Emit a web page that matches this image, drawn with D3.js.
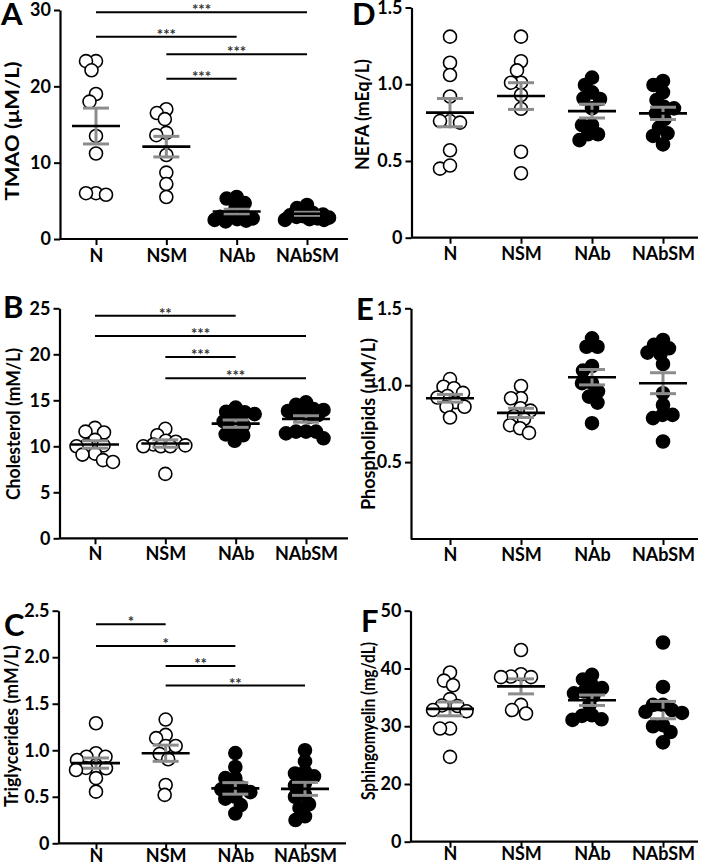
<!DOCTYPE html>
<html><head><meta charset="utf-8">
<script src="https://cdn.jsdelivr.net/npm/d3@7"></script>
<style>
body{margin:0;background:#fff}
text{font-family:Lato,'Open Sans',sans-serif;font-weight:700;fill:#000}
</style>
</head><body>
<svg id="c" width="701" height="866"></svg>
<script>
const categories = ["N","NSM","NAb","NAbSM"];
const filledGroups = [false,false,true,true];

// A: TMAO (µM/L)
const tmaoN     = [23.3,23.3,22.1,19.0,18.0,13.5,11.2,6.0,6.0,5.8];
const tmaoNSM   = [17.0,16.5,15.7,13.9,13.6,11.0,8.7,7.2,5.5];
const tmaoNAb   = [5.5,5.3,4.7,4.1,3.2,3.0,2.9,2.7,2.6,2.5,2.4,2.3];
const tmaoNAbSM = [4.45,4.05,3.4,3.2,3.1,3.0,2.9,2.8,2.7,2.6,2.5,2.5];
const tmaoMean  = [14.8,12.1,3.6,3.3];
const tmaoSem   = [2.35,1.35,0.3,0.2];
const tmaoTicks = [0,10,20,30];
const tmaoTickLabels = ["0","10","20","30"];
const tmaoSig = [[0,3,29.7,"***"],[0,2,26.5,"***"],[1,3,24.2,"***"],[1,2,21.0,"***"]];

// B: Cholesterol (mM/L)
const cholN     = [12.0,11.6,11.5,10.7,10.1,10.1,10.0,9.2,9.1,8.5,8.3];
const cholNSM   = [11.9,11.2,10.6,10.5,10.2,10.1,10.0,10.0,10.0,7.0];
const cholNAb   = [14.2,13.76,13.7,13.5,12.97,12.7,12.3,11.8,11.3,11.2,10.6];
const cholNAbSM = [14.78,14.5,14.05,13.95,13.84,13.84,13.6,13.4,13.2,11.6,11.6,11.6,11.4,10.87];
const cholMean  = [10.2,10.3,12.46,12.97];
const cholSem   = [0.4,0.4,0.4,0.35];
const cholTicks = [0,5,10,15,20,25];
const cholTickLabels = ["0","5","10","15","20","25"];
const cholSig = [[0,2,24.2,"**"],[0,3,22.0,"***"],[1,2,19.7,"***"],[1,3,17.4,"***"]];

// C: Triglycerides (mM/L)
const trigN     = [1.29,0.968,0.93,0.93,0.896,0.813,0.81,0.806,0.788,0.70,0.555];
const trigNSM   = [1.33,1.165,1.13,1.046,1.046,0.96,0.903,0.627,0.52];
const trigNAb   = [0.97,0.82,0.70,0.70,0.60,0.58,0.60,0.55,0.50,0.48,0.41,0.32];
const trigNAbSM = [1.00,0.88,0.77,0.75,0.72,0.65,0.62,0.52,0.50,0.42,0.38,0.29,0.25];
const trigMean  = [0.862,0.968,0.59,0.585];
const trigSem   = [0.055,0.087,0.062,0.07];
const trigTicks = [0,0.5,1.0,1.5,2.0,2.5];
const trigTickLabels = ["0","0.5","1.0","1.5","2.0","2.5"];
const trigSig = [[0,1,2.355,"*"],[0,2,2.12,"*"],[1,2,1.906,"**"],[1,3,1.695,"**"]];

// D: NEFA (mEq/L)
const nefaN     = [1.31,1.14,1.06,0.92,0.76,0.75,0.76,0.57,0.45,0.47];
const nefaNSM   = [1.31,1.15,1.09,1.01,1.01,0.93,0.84,0.56,0.42];
const nefaNAb   = [1.043,0.995,0.947,0.904,0.908,0.843,0.734,0.734,0.674,0.674,0.636];
const nefaNAbSM = [1.021,0.995,0.947,0.897,0.853,0.843,0.81,0.773,0.717,0.68,0.663,0.608];
const nefaMean  = [0.815,0.923,0.825,0.81];
const nefaSem   = [0.092,0.087,0.045,0.04];
const nefaTicks = [0,0.5,1.0,1.5];
const nefaTickLabels = ["0","0.5","1.0","1.5"];

// E: Phospholipids (µM/L)
const phosN     = [1.04,0.99,0.98,0.95,0.93,0.92,0.89,0.86,0.86,0.79];
const phosNSM   = [0.995,0.915,0.915,0.85,0.835,0.80,0.78,0.74,0.72,0.69];
const phosNAb   = [1.305,1.25,1.25,1.125,1.095,1.013,1.013,0.96,0.926,0.887,0.753];
const phosNAbSM = [1.294,1.262,1.24,1.212,1.203,1.138,0.948,0.872,0.807,0.807,0.786,0.634];
const phosMean  = [0.915,0.82,1.052,1.013];
const phosSem   = [0.025,0.03,0.05,0.068];
const phosTicks = [0.5,1.0,1.5];
const phosTickLabels = ["0.5","1.0","1.5"];

// F: Sphingomyelin (mg/dL)
const sphN     = [39.3,37.9,37.1,34.7,33.6,33.5,32.6,32.8,29.6,29.6,24.7];
const sphNSM   = [43.2,39.0,38.6,38.5,38.5,33.7,32.8,32.2];
const sphNAb   = [38.9,38.1,37.1,36.6,36.0,35.7,35.3,33.7,31.9,31.8,31.2,31.1];
const sphNAbSM = [44.5,36.8,33.7,33.7,32.8,32.5,32.3,30.2,30.0,29.0,27.2];
const sphMean  = [33.0,36.9,34.5,32.8];
const sphSem   = [1.2,1.3,0.9,1.5];
const sphTicks = [0,20,30,40,50];
const sphTickLabels = ["0","20","30","40","50"];

const panels = [
  {letter:"A", title:"TMAO (\u03BCM/L)", groups:[tmaoN,tmaoNSM,tmaoNAb,tmaoNAbSM], mean:tmaoMean, sem:tmaoSem, ticks:tmaoTicks, tickLabels:tmaoTickLabels, sig:tmaoSig,
   domain:[0,30], range:[239,10], x0:60, xEnd:348, xr:[96,307], labPad:4, letterPos:[1,25], titlePos:[19,131], titleLen:139},
  {letter:"B", title:"Cholesterol (mM/L)", groups:[cholN,cholNSM,cholNAb,cholNAbSM], mean:cholMean, sem:cholSem, ticks:cholTicks, tickLabels:cholTickLabels, sig:cholSig,
   domain:[0,25], range:[538.3,308.3], x0:59.5, xEnd:348, xr:[95,306], labPad:3, letterPos:[3,318], titlePos:[19.5,424], titleLen:152},
  {letter:"C", title:"Triglycerides (mM/L)", groups:[trigN,trigNSM,trigNAb,trigNAbSM], mean:trigMean, sem:trigSem, ticks:trigTicks, tickLabels:trigTickLabels, sig:trigSig,
   domain:[0,2.5], range:[843.3,610.7], x0:58.5, xEnd:346, xr:[96,305], labPad:0, letterPos:[4,636], titlePos:[18,726], titleLen:162},
  {letter:"D", title:"NEFA (mEq/L)", groups:[nefaN,nefaNSM,nefaNAb,nefaNAbSM], mean:nefaMean, sem:nefaSem, ticks:nefaTicks, tickLabels:nefaTickLabels, sig:[],
   domain:[0,1.5], range:[237.7,7.5], x0:411.5, xEnd:698, xr:[450,663], labPad:4, letterPos:[352,25], titlePos:[369,114.5], titleLen:111},
  {letter:"E", title:"Phospholipids (\u03BCM/L)", groups:[phosN,phosNSM,phosNAb,phosNAbSM], mean:phosMean, sem:phosSem, ticks:phosTicks, tickLabels:phosTickLabels, sig:[],
   domain:[0,1.5], range:[539,308.3], x0:411, xEnd:698, xr:[450,663], labPad:3, letterPos:[356,320], titlePos:[375,424], titleLen:172},
  {letter:"F", title:"Sphingomyelin (mg/dL)", groups:[sphN,sphNSM,sphNAb,sphNAbSM], mean:sphMean, sem:sphSem, ticks:sphTicks, tickLabels:sphTickLabels, sig:[],
   domain:[0,20,50], range:[841.7,784,610.7], x0:410.5, xEnd:698, xr:[450,663], labPad:0, letterPos:[361,632], titlePos:[375,721], titleLen:158}
];

const svg = d3.select("#c");
const R = 6.5, COLL = 10, MAXW = 22;

function swarm(vals, cx, y) {
  const order = vals.map((v,i)=>i).sort((a,b)=>vals[b]-vals[a]);
  const placed = [], out = new Array(vals.length);
  for (const i of order) {
    const py = y(vals[i]);
    let off = null, bestO = 0, bestD = -1;
    for (let k=0;k<=MAXW*4;k++) {
      const o = (k%2===0?1:-1)*Math.ceil(k/2)*0.5;
      let minD = Infinity;
      placed.forEach(p => { const d = Math.hypot(p.x-o, p.y-py); if (d<minD) minD=d; });
      if (minD >= COLL) { off = o; break; }
      if (minD > bestD + 0.01) { bestD = minD; bestO = o; }
    }
    if (off === null) off = bestO;
    placed.push({x:off,y:py});
    out[i] = {x:cx+off, y:py};
  }
  return out;
}

panels.forEach(p => {
  const g = svg.append("g");
  const y = d3.scaleLinear().domain(p.domain).range(p.range);
  const x = d3.scalePoint().domain(categories).range(p.xr);
  const yBase = y(0);

  const ya = g.append("g").attr("transform",`translate(${p.x0},0)`)
    .call(d3.axisLeft(y).tickValues(p.ticks).tickFormat((d,i)=>p.tickLabels[i]).tickSize(6).tickPadding(3).tickSizeOuter(0));
  ya.select(".domain").attr("stroke","#000").attr("stroke-width",2.2);
  ya.selectAll(".tick line").attr("stroke","#000").attr("stroke-width",2);
  ya.selectAll(".tick text").style("font-size","18px").style("font-family","Lato").style("font-weight","700");

  const xa = g.append("g").attr("transform",`translate(0,${yBase})`)
    .call(d3.axisBottom(x).tickSize(6).tickPadding(p.labPad).tickSizeOuter(0));
  xa.select(".domain").remove();
  xa.append("line").attr("x1",p.x0).attr("x2",p.xEnd).attr("y1",0).attr("y2",0).attr("stroke","#000").attr("stroke-width",2.2);
  xa.selectAll(".tick line").attr("stroke","#000").attr("stroke-width",2);
  xa.selectAll(".tick text").style("font-size","18px").style("font-family","Lato").style("font-weight","700");

  p.groups.forEach((vals,gi) => {
    const pts = swarm(vals, x(categories[gi]), y);
    g.append("g").selectAll("circle").data(pts).join("circle")
      .attr("cx",d=>d.x).attr("cy",d=>d.y).attr("r",R)
      .attr("fill", filledGroups[gi] ? "#000" : "#fff")
      .attr("stroke","#000").attr("stroke-width",1.6);
  });

  categories.forEach((c,gi) => {
    const cx = x(c), m = p.mean[gi], s = p.sem[gi];
    const eg = g.append("g").attr("stroke","#8c8c8c").attr("stroke-width",3);
    eg.append("line").attr("x1",cx).attr("x2",cx).attr("y1",y(m-s)).attr("y2",y(m+s));
    eg.append("line").attr("x1",cx-13).attr("x2",cx+13).attr("y1",y(m-s)).attr("y2",y(m-s));
    eg.append("line").attr("x1",cx-13).attr("x2",cx+13).attr("y1",y(m+s)).attr("y2",y(m+s));
    g.append("line").attr("x1",cx-24).attr("x2",cx+24).attr("y1",y(m)).attr("y2",y(m))
      .attr("stroke","#000").attr("stroke-width",2.6);
  });

  p.sig.forEach(([a,b,v,lab]) => {
    const x1 = x(categories[a]), x2 = x(categories[b]), yy = y(v);
    g.append("line").attr("x1",x1).attr("x2",x2).attr("y1",yy).attr("y2",yy).attr("stroke","#000").attr("stroke-width",2);
    g.append("text").attr("x",(x1+x2)/2).attr("y",yy+3).attr("text-anchor","middle")
      .style("font-size","15px").style("fill","#333").text(lab);
  });

  g.append("text").attr("transform",`translate(${p.titlePos[0]},${p.titlePos[1]}) rotate(-90)`)
    .attr("text-anchor","middle").style("font-size","18.5px")
    .attr("textLength",p.titleLen).attr("lengthAdjust","spacingAndGlyphs").text(p.title);

  g.append("text").attr("x",p.letterPos[0]).attr("y",p.letterPos[1]).style("font-size","31px").text(p.letter);
});
</script>
</body></html>
